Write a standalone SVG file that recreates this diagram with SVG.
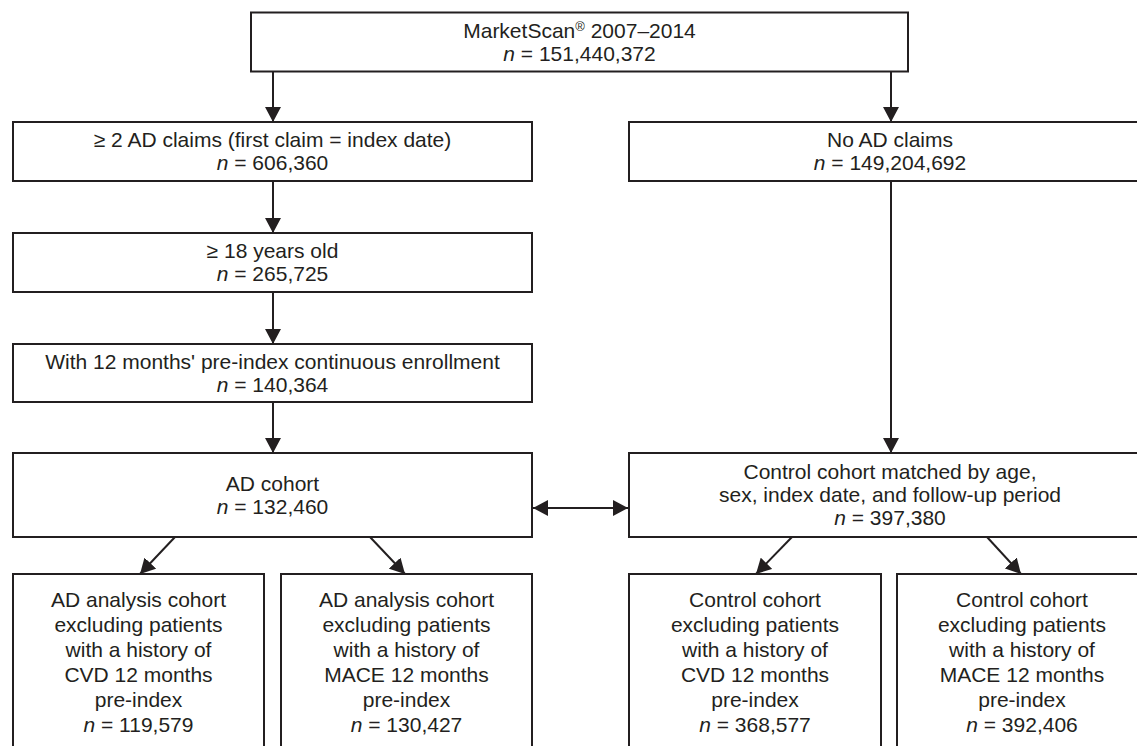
<svg xmlns="http://www.w3.org/2000/svg" width="1137" height="746" viewBox="0 0 1137 746">
<style>
.box{fill:#fff;stroke:#231f20;stroke-width:2}
.t{font-family:"Liberation Sans",Arial,sans-serif;font-size:21px;fill:#231f20;text-anchor:middle}
.i{font-style:italic}
.c{stroke:#231f20;stroke-width:2;fill:none;marker-end:url(#ah)}
</style>
<defs>
<marker id="ah" markerUnits="userSpaceOnUse" markerWidth="16" markerHeight="16" refX="15" refY="8" orient="auto-start-reverse">
<path d="M0,0 L15,8 L0,16 z" fill="#231f20"/>
</marker>
</defs>
<rect width="1137" height="746" fill="#fff"/>
<g id="connectors">
<line class="c" x1="273" y1="72" x2="273" y2="122"/>
<line class="c" x1="891" y1="72" x2="891" y2="122"/>
<line class="c" x1="273" y1="181" x2="273" y2="233"/>
<line class="c" x1="273" y1="292" x2="273" y2="344"/>
<line class="c" x1="273" y1="402" x2="273" y2="453"/>
<line class="c" x1="891" y1="181" x2="891" y2="453"/>
<line class="c" x1="533" y1="508" x2="628" y2="508" style="marker-start:url(#ah)"/>
<line class="c" x1="175" y1="537" x2="140" y2="574"/>
<line class="c" x1="370" y1="537" x2="405" y2="574"/>
<line class="c" x1="792" y1="537" x2="756" y2="574"/>
<line class="c" x1="987" y1="537" x2="1021" y2="574"/>
</g>
<g id="n-marketscan">
<rect class="box" x="251" y="12.5" width="657" height="59"/>
<text class="t" x="579.5" y="37.5">MarketScan<tspan font-size="13" dy="-7">®</tspan><tspan dy="7"> 2007–2014</tspan></text>
<text class="t" x="579.5" y="60.5"><tspan class="i">n</tspan> = 151,440,372</text>
</g>
<g id="n-ad-claims">
<rect class="box" x="13" y="122" width="519" height="59"/>
<text class="t" x="272.5" y="147">≥ 2 AD claims (first claim = index date)</text>
<text class="t" x="272.5" y="170"><tspan class="i">n</tspan> = 606,360</text>
</g>
<g id="n-no-ad">
<rect class="box" x="629" y="122" width="530" height="59"/>
<text class="t" x="890" y="147">No AD claims</text>
<text class="t" x="890" y="170"><tspan class="i">n</tspan> = 149,204,692</text>
</g>
<g id="n-18">
<rect class="box" x="13" y="233" width="519" height="59"/>
<text class="t" x="272.5" y="258">≥ 18 years old</text>
<text class="t" x="272.5" y="281"><tspan class="i">n</tspan> = 265,725</text>
</g>
<g id="n-enroll">
<rect class="box" x="13" y="344" width="519" height="58"/>
<text class="t" x="272.5" y="368.5">With 12 months' pre-index continuous enrollment</text>
<text class="t" x="272.5" y="391.5"><tspan class="i">n</tspan> = 140,364</text>
</g>
<g id="n-ad-cohort">
<rect class="box" x="13" y="453" width="519" height="84"/>
<text class="t" x="272.5" y="490.5">AD cohort</text>
<text class="t" x="272.5" y="513.5"><tspan class="i">n</tspan> = 132,460</text>
</g>
<g id="n-control">
<rect class="box" x="629" y="453" width="530" height="84"/>
<text class="t" x="890" y="479">Control cohort matched by age,</text>
<text class="t" x="890" y="502">sex, index date, and follow-up period</text>
<text class="t" x="890" y="525"><tspan class="i">n</tspan> = 397,380</text>
</g>
<g id="n-ad-cvd">
<rect class="box" x="13" y="574" width="251" height="200"/>
<text class="t" x="138.5" y="607">AD analysis cohort</text>
<text class="t" x="138.5" y="632">excluding patients</text>
<text class="t" x="138.5" y="657">with a history of</text>
<text class="t" x="138.5" y="682">CVD 12 months</text>
<text class="t" x="138.5" y="707">pre-index</text>
<text class="t" x="138.5" y="732"><tspan class="i">n</tspan> = 119,579</text>
</g>
<g id="n-ad-mace">
<rect class="box" x="281" y="574" width="251" height="200"/>
<text class="t" x="406.5" y="607">AD analysis cohort</text>
<text class="t" x="406.5" y="632">excluding patients</text>
<text class="t" x="406.5" y="657">with a history of</text>
<text class="t" x="406.5" y="682">MACE 12 months</text>
<text class="t" x="406.5" y="707">pre-index</text>
<text class="t" x="406.5" y="732"><tspan class="i">n</tspan> = 130,427</text>
</g>
<g id="n-ctrl-cvd">
<rect class="box" x="629" y="574" width="252" height="200"/>
<text class="t" x="755" y="607">Control cohort</text>
<text class="t" x="755" y="632">excluding patients</text>
<text class="t" x="755" y="657">with a history of</text>
<text class="t" x="755" y="682">CVD 12 months</text>
<text class="t" x="755" y="707">pre-index</text>
<text class="t" x="755" y="732"><tspan class="i">n</tspan> = 368,577</text>
</g>
<g id="n-ctrl-mace">
<rect class="box" x="897" y="574" width="260" height="200"/>
<text class="t" x="1022" y="607">Control cohort</text>
<text class="t" x="1022" y="632">excluding patients</text>
<text class="t" x="1022" y="657">with a history of</text>
<text class="t" x="1022" y="682">MACE 12 months</text>
<text class="t" x="1022" y="707">pre-index</text>
<text class="t" x="1022" y="732"><tspan class="i">n</tspan> = 392,406</text>
</g>
</svg>
